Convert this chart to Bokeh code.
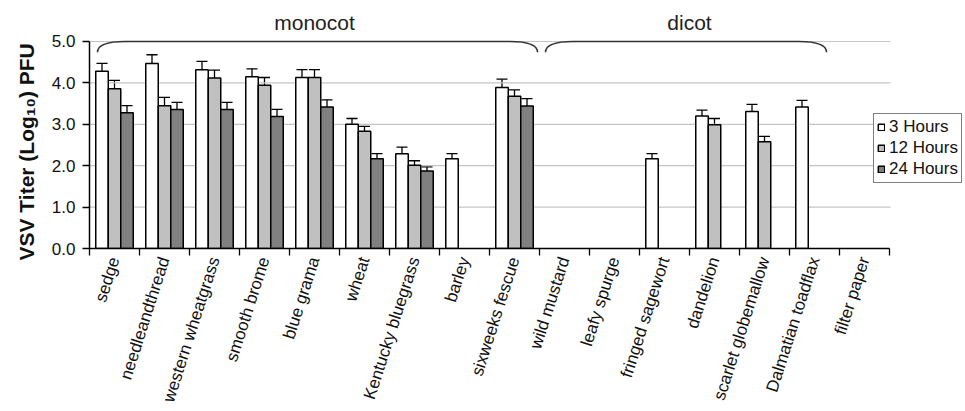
from bokeh.plotting import figure
from bokeh.models import (Range1d, FixedTicker, ColumnDataSource, Whisker, TeeHead,
                          Legend, LegendItem, NumeralTickFormatter, Title)
from bokeh.core.properties import value
from bokeh.embed import file_html
from bokeh.resources import INLINE

# ---------------- data ----------------
plants = ["sedge", "needleandthread", "western wheatgrass", "smooth brome", "blue grama",
          "wheat", "Kentucky bluegrass", "barley", "sixweeks fescue", "wild mustard",
          "leafy spurge", "fringed sagewort", "dandelion", "scarlet globemallow",
          "Dalmatian toadflax", "filter paper"]
series = ["3 Hours", "12 Hours", "24 Hours"]
h3 = [4.28, 4.47, 4.32, 4.15, 4.13, 3.00, 2.29, 2.17, 3.89, None, None, 2.17, 3.20, 3.31, 3.42, None]
h12 = [3.86, 3.45, 4.12, 3.94, 4.13, 2.83, 2.01, None, 3.68, None, None, None, 2.99, 2.58, None, None]
h24 = [3.28, 3.36, 3.36, 3.19, 3.42, 2.17, 1.87, None, 3.44, None, None, None, None, None, None, None]
e3 = [0.19, 0.21, 0.20, 0.19, 0.19, 0.14, 0.16, 0.12, 0.20, None, None, 0.12, 0.14, 0.17, 0.16, None]
e12 = [0.20, 0.20, 0.19, 0.19, 0.19, 0.12, 0.11, None, 0.15, None, None, None, 0.15, 0.13, None, None]
e24 = [0.17, 0.17, 0.17, 0.17, 0.17, 0.12, 0.10, None, 0.18, None, None, None, None, None, None, None]
groups = ["monocot", "dicot"]
group_first = [0, 9]
group_last = [8, 14]
brace_x0 = [0.16, 9.12]
brace_x1 = [8.96, 14.74]
y_ticks = [0, 1, 2, 3, 4, 5]

colors = ["#ffffff", "#c0c0c0", "#808080"]
offsets = [-0.25, 0.0, 0.25]
FONT = "Liberation Sans"
N = len(plants)

p = figure(width=965, height=411, output_backend="svg", toolbar_location=None,
           x_range=Range1d(0, 17.52), y_range=Range1d(0, 5.99),
           min_border_left=89, min_border_right=0, min_border_top=0, min_border_bottom=163)
p.outline_line_color = None
p.background_fill_color = "white"
p.border_fill_color = "white"

# grid lines drawn only across the category area
p.xgrid.grid_line_color = None
p.ygrid.grid_line_color = None
gy = y_ticks[1:]
p.segment(x0=[0] * len(gy), y0=gy, x1=[N + 0.02] * len(gy), y1=gy,
          line_color="#c4c4c4", line_width=1.2)

# y axis
ya = p.yaxis[0]
ya.ticker = FixedTicker(ticks=y_ticks)
ya.bounds = (0, 5)
ya.formatter = NumeralTickFormatter(format="0.0")
ya.major_label_text_font = FONT
ya.major_label_text_font_size = "17px"
ya.major_label_text_color = "#111111"
ya.major_label_standoff = 7
ya.major_tick_out = 7
ya.major_tick_in = 0
ya.minor_tick_out = 0
ya.minor_tick_in = 0
ya.axis_line_color = "black"
ya.axis_line_width = 1.5
ya.major_tick_line_width = 1.3

ylab = Title(text="VSV Titer (Log\u2081\u2080) PFU", align="left", offset=-12,
             text_font=FONT, text_font_style="bold", text_font_size="21px",
             text_color="#111111", standoff=21)
p.add_layout(ylab, "left")

# x axis: labels at category centres, ticks at category boundaries
centers = [i + 0.5 for i in range(N)]
xa = p.xaxis[0]
xa.bounds = (0, N)
xa.ticker = FixedTicker(ticks=centers, minor_ticks=list(range(N + 1)))
xa.major_label_overrides = {c: n for c, n in zip(centers, plants)}
xa.major_label_orientation = 1.26
xa.major_label_text_font = FONT
xa.major_label_text_font_style = "normal"
xa.major_label_text_font_size = "17px"
xa.major_label_text_color = "#111111"
xa.major_label_standoff = 2
xa.major_tick_out = 0
xa.major_tick_in = 0
xa.minor_tick_out = 7
xa.minor_tick_in = 0
xa.minor_tick_line_color = "black"
xa.minor_tick_line_width = 1.3
xa.axis_line_color = "black"
xa.axis_line_width = 1.5

# bars + error bars
renderers = []
for vals, errs, col, off in zip([h3, h12, h24], [e3, e12, e24], colors, offsets):
    xs, ys, lo, hi = [], [], [], []
    for i, (v, e) in enumerate(zip(vals, errs)):
        if v is None:
            continue
        xs.append(i + 0.5 + off)
        ys.append(v)
        lo.append(v - e)
        hi.append(v + e)
    src = ColumnDataSource(dict(x=xs, top=ys, lower=lo, upper=hi))
    r = p.vbar(x="x", top="top", bottom=0, width=0.25, source=src,
               fill_color=col, line_color="black", line_width=1.5)
    renderers.append(r)
    w = Whisker(base="x", lower="lower", upper="upper", source=src,
                line_color="black", line_width=1.3,
                upper_head=TeeHead(size=11, line_color="black", line_width=1.3),
                lower_head=TeeHead(size=11, line_color="black", line_width=1.3))
    p.add_layout(w)

# group braces
curl = 0.55
for g, a, b, f, l in zip(groups, brace_x0, brace_x1, group_first, group_last):
    p.quadratic(x0=[a, b], y0=[4.74, 4.74], x1=[a + curl, b - curl], y1=[5.0, 5.0],
                cx=[a, b], cy=[5.0, 5.0], line_color="#333333", line_width=1.6)
    p.segment(x0=[a + curl], y0=[5.0], x1=[b - curl], y1=[5.0],
              line_color="#333333", line_width=1.6)
    p.text(x=[(f + l + 1) / 2], y=[5.47], text=[g], text_font=value(FONT),
           text_font_size="21px", text_align="center", text_baseline="middle",
           text_color="#222222")

legend = Legend(items=[LegendItem(label=s, renderers=[r]) for s, r in zip(series, renderers)],
                location=(784, 65))
legend.label_text_font = FONT
legend.label_text_font_size = "17px"
legend.label_text_color = "#111111"
legend.glyph_width = 8
legend.glyph_height = 8
legend.label_standoff = 4
legend.spacing = 1
legend.padding = 3
legend.margin = 0
legend.label_height = 20
legend.border_line_color = "black"
legend.border_line_width = 1.2
legend.background_fill_alpha = 1.0
p.add_layout(legend)

open("out.html", "w").write(file_html(p, INLINE))
